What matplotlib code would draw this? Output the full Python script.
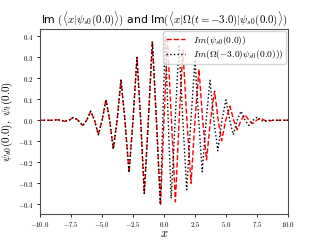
import numpy as np
import matplotlib
matplotlib.use('Agg')
import matplotlib.pyplot as plt
from matplotlib.ticker import FuncFormatter

plt.rcParams['mathtext.fontset'] = 'cm'

# shared left part of both curves (extrema and zero crossings)
x_left = [-10.0, -9.0, -8.6, -8.3, -8.0, -7.65, -7.31, -6.93, -6.56, -6.23,
          -5.91, -5.6, -5.30, -4.99, -4.68, -4.38, -4.09, -3.78, -3.47, -3.15,
          -2.82, -2.5, -2.18, -1.88, -1.59, -1.26, -0.94, -0.61]
y_left = [0.0, 0.0, 0.002, 0.0, -0.005, 0.0, 0.014, 0.0, -0.025, 0.0,
          0.043, 0.0, -0.069, 0.0, 0.099, 0.0, -0.137, 0.0, 0.192, 0.0,
          -0.249, 0.0, 0.299, 0.0, -0.348, 0.0, 0.374, 0.0]

# Im(psi_s0(0.0)), right part
x_red = [-0.28, 0.0, 0.28, 0.6, 0.92, 1.22, 1.52, 1.85, 2.18, 2.5,
         2.82, 3.12, 3.43, 3.75, 4.08, 4.37, 4.65, 4.98, 5.32, 5.62,
         5.91, 6.22, 6.53, 6.84, 7.15, 7.47, 7.8, 8.1, 8.4, 8.8, 10.0]
y_red = [-0.404, 0.0, 0.38, 0.0, -0.388, 0.0, 0.335, 0.0, -0.30, 0.0,
         0.243, 0.0, -0.189, 0.0, 0.139, 0.0, -0.097, 0.0, 0.067, 0.0,
         -0.045, 0.0, 0.027, 0.0, -0.016, 0.0, 0.01, 0.0, -0.004, 0.0, 0.0]

# Im(Omega(-3.0) psi_s0(0.0)), right part
x_blk = [-0.30, -0.1, 0.1, 0.34, 0.58, 0.9, 1.21, 1.52, 1.83, 2.17,
         2.5, 2.8, 3.08, 3.4, 3.71, 4.02, 4.34, 4.67, 5.0, 5.3,
         5.59, 5.9, 6.21, 6.53, 6.85, 7.2, 7.53, 7.8, 8.1, 8.5, 10.0]
y_blk = [-0.40, 0.0, 0.395, 0.0, -0.372, 0.0, 0.36, 0.0, -0.33, 0.0,
         0.287, 0.0, -0.245, 0.0, 0.19, 0.0, -0.145, 0.0, 0.097, 0.0,
         -0.069, 0.0, 0.043, 0.0, -0.025, 0.0, 0.016, 0.0, -0.006, 0.0, 0.0]

fig, ax = plt.subplots(figsize=(3.2, 2.4), dpi=100)

ax.plot(x_left + x_red, y_left + y_red, '--', color='red', lw=1.0,
        label=r'$Im(\psi_{s0}(0.0))$')
ax.plot(x_left + x_blk, y_left + y_blk, ':', color='black', lw=1.0,
        label=r'$Im(\Omega(-3.0)\psi_{s0}(0.0)))$')

ax.set_xlim(-10, 10)
ax.set_xticks(np.arange(-10, 10.1, 2.5))
ax.set_yticks(np.arange(-0.4, 0.41, 0.1))
cm_fmt = FuncFormatter(lambda v, p: r'$%.1f$' % (0.0 if abs(v) < 1e-9 else v))
ax.xaxis.set_major_formatter(cm_fmt)
ax.yaxis.set_major_formatter(cm_fmt)
ax.tick_params(labelsize=5, length=2.5, width=0.6, pad=2)
ax.set_xlabel(r'$x$', fontsize=9, labelpad=-1)
ax.set_ylabel(r'$\psi_{s0}(0.0),\ \psi_t(0.0)$', fontsize=8, labelpad=2)
ax.set_title(r'Im $(\langle x|\psi_{s0}(0.0)\rangle)$ and Im$(\langle x|\Omega(t=-3.0)|\psi_{s0}(0.0)\rangle)$',
             fontsize=7.8, pad=4)
for s in ax.spines.values():
    s.set_color('0.3')
ax.legend(loc='upper right', fontsize=6.8, borderpad=0.3, labelspacing=0.2,
          handlelength=2.0, borderaxespad=0.2)

fig.savefig('out.png')
